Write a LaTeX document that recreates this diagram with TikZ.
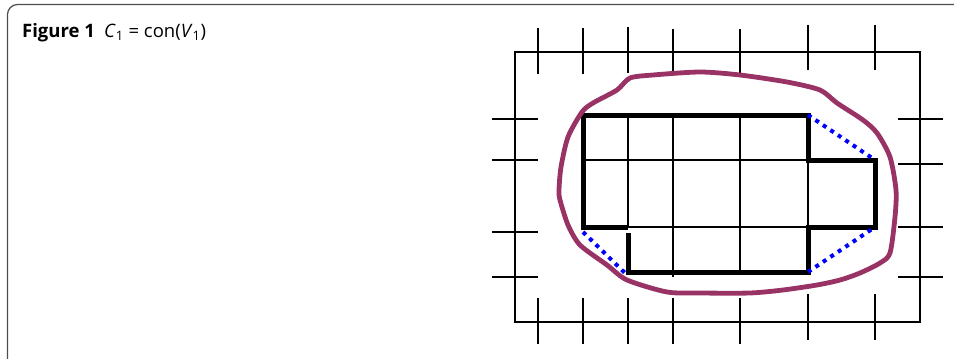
\documentclass[tikz,border=0pt]{standalone}
\usepackage{fontspec}
\setmainfont{Open Sans}
\definecolor{hullpurple}{HTML}{993366}
\tikzset{
  thin grid/.style={line width=1.6pt, black},
  thick edge/.style={line width=5pt, black},
  hull dots/.style={line width=4pt, blue, dash pattern=on 4pt off 5pt},
  frame line/.style={line width=1.2pt, black!70},
}
\begin{document}
\begin{tikzpicture}[x=1pt,y=-1pt]
\useasboundingbox (0,0) rectangle (954,359);
% frame
\draw[frame line, rounded corners=10pt] (7.5,362) -- (7.5,4.5) -- (960,4.5);
% title
\node[anchor=base west, inner sep=0pt, font=\fontsize{18.5}{22}\selectfont] (title) at (22,37)
  {\textbf{Figure 1}\hspace{0.5em}\textit{C}\textsubscript{1} = con(\textit{V}\textsubscript{1})};
% outer rectangle
\draw[thin grid] (515,52) rectangle (920,322);
% top ticks
\foreach \x/\a/\b in {538/28/74,583/28/74,628/27/73,673/29/75,740/29/75,808/25/70,875/25/70}
  \draw[thin grid] (\x,\a) -- (\x,\b);
% bottom ticks
\foreach \x/\a/\b in {538/298/344,583/298/344,628/298/344,673/298/344,740/298/344,808/294/340,875/294/340}
  \draw[thin grid] (\x,\a) -- (\x,\b);
% left ticks
\foreach \y in {119,160,232,277}
  \draw[thin grid] (492,\y) -- (538,\y);
% right ticks
\foreach \y in {119,164,227,277}
  \draw[thin grid] (898,\y) -- (943,\y);
% interior grid
\draw[thin grid] (583,160) -- (808,160);
\draw[thin grid] (628,227) -- (808,227);
\draw[thin grid] (628,115) -- (628,227);
\draw[thin grid] (673,115) -- (673,277);
\draw[thin grid] (740,115) -- (740,275);
\draw[thin grid] (808,160) -- (808,227);
% thick boundary
\draw[thick edge, line join=miter] (628,227) -- (583,227) -- (583,115) -- (808,115) -- (808,160) -- (875,160) -- (875,227) -- (808,227) -- (808,272) -- (628,272) -- (628,233);
% dotted hull edges
\draw[hull dots] (808,115) -- (875,160);
\draw[hull dots] (583,232) -- (626,274);
\draw[hull dots] (808,272) -- (875,227);
% purple curve
\draw[hullpurple, line width=4.8pt, line join=round] plot[smooth cycle, tension=0.45] coordinates {
 (559,190) (561,167) (568,137) (582,112) (593,103) (617,90) (630,78) (653,75) (700,72) (740,75)
 (787,82) (820,90) (837,103) (863,120) (877,133) (890,157) (896,190) (895,217) (890,253) (880,263)
 (860,273) (840,280) (817,285) (783,290) (750,293) (700,293) (667,292) (627,280) (607,265) (580,245)
 (568,225) (560,200)};
\end{tikzpicture}
\end{document}
